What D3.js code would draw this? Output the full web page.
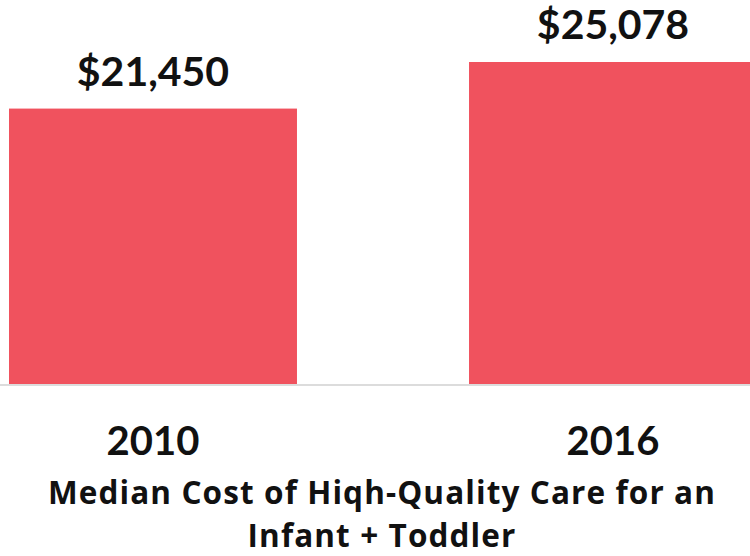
<!DOCTYPE html>
<html>
<head>
<meta charset="utf-8">
<script src="https://cdn.jsdelivr.net/npm/d3@7"></script>
<style>
  html, body { margin: 0; padding: 0; background: #fff; }
  svg { display: block; }
  text { font-family: Lato, "Open Sans", sans-serif; font-weight: 700; fill: #111; }
  .title { font-family: "Open Sans", Lato, sans-serif; font-weight: 700; letter-spacing: 1.1px; }
</style>
</head>
<body>
<svg id="chart" width="750" height="556"></svg>
<script>
// Median cost of high-quality care, infant + toddler
const years = ["2010", "2016"];
const costs = [21450, 25078];
const titleLines = ["Median Cost of Hiqh-Quality Care for an", "Infant + Toddler"];

const W = 750, H = 556;
const baseY = 384;
const svg = d3.select("#chart");

const x = d3.scaleBand()
  .domain(years)
  .range([9, 757])
  .paddingInner(0.374)
  .paddingOuter(0);

const y = d3.scaleLinear()
  .domain([0, 25078])
  .range([baseY, 62]);

const fmt = d3.format("$,");

// bars
svg.append("g").selectAll("rect")
  .data(years)
  .join("rect")
  .attr("x", d => x(d))
  .attr("width", x.bandwidth())
  .attr("y", (d, i) => y(costs[i]))
  .attr("height", (d, i) => y(0) - y(costs[i]))
  .attr("fill", "#f0525e");

// baseline
svg.append("line")
  .attr("x1", 0).attr("x2", W)
  .attr("y1", baseY + 1).attr("y2", baseY + 1)
  .attr("stroke", "#dcdcdc")
  .attr("stroke-width", 2);

// value labels
svg.append("g").selectAll("text")
  .data(years)
  .join("text")
  .attr("x", d => x(d) + x.bandwidth() / 2)
  .attr("y", (d, i) => y(costs[i]) - 23)
  .attr("text-anchor", "middle")
  .attr("font-size", 41)
  .text((d, i) => fmt(costs[i]));

// category axis labels
const xAxis = d3.axisBottom(x).tickSize(0).tickPadding(0);
const gx = svg.append("g")
  .attr("transform", `translate(0,${baseY})`)
  .call(xAxis);
gx.select(".domain").remove();
gx.selectAll("text")
  .attr("dy", null)
  .attr("y", 71)
  .attr("font-size", 40)
  .attr("font-family", "Lato, sans-serif")
  .attr("font-weight", 700)
  .attr("fill", "#111");

// axis title, two centred lines
svg.append("g").selectAll("text")
  .data(titleLines)
  .join("text")
  .attr("class", "title")
  .attr("text-anchor", "middle")
  .attr("font-size", 31.5)
  .attr("x", 382)
  .attr("y", (d, i) => 503.5 + i * 43)
  .text(d => d);
</script>
</body>
</html>
